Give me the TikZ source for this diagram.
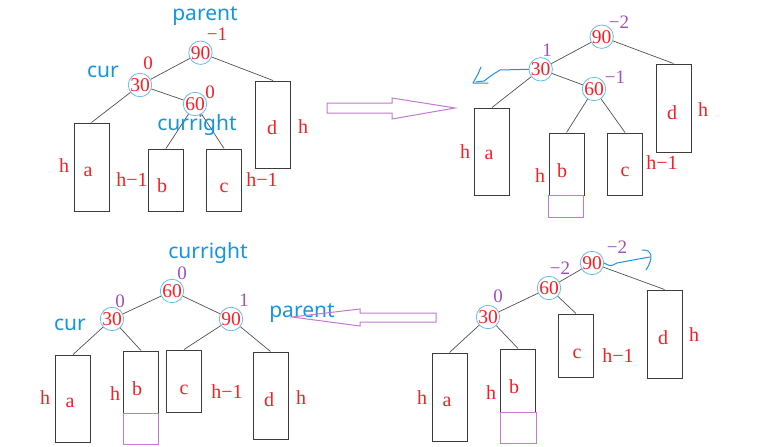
\documentclass[tikz,border=0pt]{standalone}
\usepackage{fontspec}
\setmainfont{Liberation Serif}
\newfontfamily\namefont{Noto Sans}
\definecolor{tred}{RGB}{250,30,35}
\definecolor{tblue}{RGB}{20,150,222}
\definecolor{cblue}{RGB}{95,190,235}
\definecolor{tpurple}{RGB}{160,80,190}
\definecolor{apurple}{RGB}{195,120,210}
\definecolor{boxgray}{RGB}{60,60,60}
\definecolor{edgegray}{RGB}{80,80,80}
\tikzset{
  cn/.style={circle, draw=cblue, line width=0.8pt, minimum size=22pt, inner sep=0pt,
    text=tred, font=\fontsize{19.5}{19.5}\selectfont},
  bx/.style={draw=boxgray, line width=1pt, minimum width=35pt, inner sep=0pt},
  lbl/.style={text=tred, inner sep=0pt, font=\fontsize{20}{20}\selectfont},
  bal/.style={text=tpurple, inner sep=0pt, font=\fontsize{19}{19}\selectfont},
  balr/.style={text=tred, inner sep=0pt, font=\fontsize{19}{19}\selectfont},
  nm/.style={text=tblue, inner sep=0pt, font=\namefont\fontsize{21}{21}\selectfont},
  edge/.style={draw=edgegray, line width=0.7pt},
  bigarrow/.style={draw=apurple, line width=1pt, line join=miter},
  ext/.style={draw=apurple, line width=0.9pt},
  hand/.style={draw=tblue, line width=1pt, line cap=round, line join=round}
}
\begin{document}
\begin{tikzpicture}[x=1pt,y=-1pt]
\useasboundingbox (0,0) rectangle (758,447);

% ---------------- top-left ----------------
\node[cn] (tl90) at (200.5,52.7) {90};
\node[cn] (tl30) at (140,85) {30};
\node[cn] (tl60) at (195,104) {60};
\node[bx, minimum height=88pt] (tla) at (91.5,167) {};
\node[bx, minimum height=62pt] (tlb) at (166,180) {};
\node[bx, minimum height=62pt] (tlc) at (224,180) {};
\node[bx, minimum height=87pt] (tld) at (273,124.5) {};
\draw[edge] (tl90) -- (tl30);
\draw[edge] (tl90) -- (tld.north);
\draw[edge] (tl30) -- (tla.north);
\draw[edge] (tl30) -- (tl60);
\draw[edge] (tl60) -- (tlb.north);
\draw[edge] (tl60) -- (tlc.north);
\node[lbl] (tlla) at (88,172) {a};
\node[lbl] (tllb) at (162,186) {b};
\node[lbl] (tllc) at (224,188) {c};
\node[lbl] (tlld) at (272,128) {d};
\node[lbl] (tlha) at (64,166) {h};
\node[lbl] (tlhb) at (132,180) {h−1};
\node[lbl] (tlhc) at (262,180) {h−1};
\node[lbl] (tlhd) at (303,127) {h};
\node[balr] (tlb90) at (217,34) {−1};
\node[balr] (tlb30) at (148,63) {0};
\node[balr] (tlb60) at (210,92) {0};
\node[nm] (tlparent) at (205,16) {parent};
\node[nm] (tlcur) at (103,72) {cur};
\node[nm] (tlcurright) at (197,125) {curright};

% big arrow right
\draw[bigarrow] (327,103) -- (392,103) -- (392,98) -- (455,108) -- (392,119) -- (392,113) -- (327,113) -- cycle;

% ---------------- top-right ----------------
\node[cn] (tr90) at (601.7,36.7) {90};
\node[cn] (tr30) at (540.7,69.3) {30};
\node[cn] (tr60) at (594,89) {60};
\node[bx, minimum height=87pt] (tra) at (492,151.5) {};
\node[bx, minimum height=62pt] (trb) at (566.5,164) {};
\node[bx, minimum height=62pt] (trc) at (625,164) {};
\node[bx, minimum height=88pt] (trd) at (673.5,108) {};
\draw[ext] (trb.south west) rectangle ++(35,22);
\draw[edge] (tr90) -- (tr30);
\draw[edge] (tr90) -- (trd.north);
\draw[edge] (tr30) -- (tra.north);
\draw[edge] (tr30) -- (tr60);
\draw[edge] (tr60) -- (trb.north);
\draw[edge] (tr60) -- (trc.north);
\node[lbl] (trla) at (489,155) {a};
\node[lbl] (trlb) at (562,171) {b};
\node[lbl] (trlc) at (625,172) {c};
\node[lbl] (trld) at (672,113) {d};
\node[lbl] (trha) at (465,152) {h};
\node[lbl] (trhb) at (540,176) {h};
\node[lbl] (trhc) at (662,163) {h−1};
\node[lbl] (trhd) at (703,110) {h};
\node[bal] (trb90) at (619,22) {−2};
\node[bal] (trb30) at (547,50) {1};
\node[bal] (trb60) at (615,77) {−1};
\coordinate (trh1) at (500,70);
\coordinate (trh2) at (492,75);
\coordinate (trh3) at (484,81);
\coordinate (trh4) at (476,82);
\coordinate (trh5) at (481,67);
\coordinate (trh6) at (473,83);
\coordinate (trh7) at (488,83);
\draw[hand] (tr30.west) -- (trh1) -- (trh2) -- (trh3) -- (trh4);
\draw[hand] (trh5) -- (478,74) -- (trh6) -- (trh7);

% ---------------- bottom-left ----------------
\node[cn] (bl60) at (172,291) {60};
\node[cn] (bl30) at (112,319) {30};
\node[cn] (bl90) at (231,319) {90};
\node[bx, minimum height=87pt] (bla) at (73,398.5) {};
\node[bx, minimum height=62pt] (blb) at (141,382) {};
\node[bx, minimum height=62pt] (blc) at (184,381) {};
\node[bx, minimum height=87pt] (bld) at (270.5,395.5) {};
\draw[ext] (blb.south west) rectangle ++(35,31);
\draw[edge] (bl60) -- (bl30);
\draw[edge] (bl60) -- (bl90);
\draw[edge] (bl30) -- (bla.north);
\draw[edge] (bl30) -- (blb.north);
\draw[edge] (bl90) -- (blc.north);
\draw[edge] (bl90) -- (bld.north);
\node[lbl] (blla) at (70,403) {a};
\node[lbl] (bllb) at (137,389) {b};
\node[lbl] (bllc) at (184,390) {c};
\node[lbl] (blld) at (269,400) {d};
\node[lbl] (blha) at (45,398) {h};
\node[lbl] (blhb) at (115,394) {h};
\node[lbl] (blhc) at (227,392) {h−1};
\node[lbl] (blhd) at (301,398) {h};
\node[bal] (blb60) at (182,273) {0};
\node[bal] (blb30) at (120,301) {0};
\node[bal] (blb90) at (244,300) {1};
\node[nm] (blcurright) at (208,253) {curright};
\node[nm] (blcur) at (70,325) {cur};
\node[nm] (blparent) at (302,313) {parent};

% big arrow left
\draw[bigarrow] (436,313) -- (360,313) -- (360,309) -- (292,317) -- (360,326) -- (360,322) -- (436,322) -- cycle;

% ---------------- bottom-right ----------------
\node[cn] (br90) at (592,263) {90};
\node[cn] (br60) at (549,288) {60};
\node[cn] (br30) at (488,317) {30};
\node[bx, minimum height=88pt] (bra) at (449.5,397) {};
\node[bx, minimum height=63pt] (brb) at (518,380.5) {};
\node[bx, minimum height=63pt] (brc) at (576,345.5) {};
\node[bx, minimum height=88pt] (brd) at (664.5,334) {};
\draw[ext] (brb.south west) rectangle ++(36,31);
\draw[edge] (br90) -- (br60);
\draw[edge] (br90) -- (brd.north);
\draw[edge] (br60) -- (br30);
\draw[edge] (br60) -- (brc.north);
\draw[edge] (br30) -- (bra.north);
\draw[edge] (br30) -- (brb.north);
\node[lbl] (brla) at (447,402) {a};
\node[lbl] (brlb) at (514,387) {b};
\node[lbl] (brlc) at (577,354) {c};
\node[lbl] (brld) at (663,338) {d};
\node[lbl] (brha) at (422,398) {h};
\node[lbl] (brhb) at (491,393) {h};
\node[lbl] (brhc) at (618,356) {h−1};
\node[lbl] (brhd) at (694,335) {h};
\node[bal] (brb90) at (617,247) {−2};
\node[bal] (brb60) at (560,268) {−2};
\node[bal] (brb30) at (498,296) {0};
\coordinate (brh1) at (617,263);
\coordinate (brh2) at (633,260);
\coordinate (brh3) at (650,257);
\draw[hand] (br90.east) .. controls (612,268) and (614,264) .. (brh1) -- (brh2) -- (brh3);
\draw[hand] (642,250) .. controls (652,249) and (654,258) .. (646,270);
\end{tikzpicture}
\end{document}
